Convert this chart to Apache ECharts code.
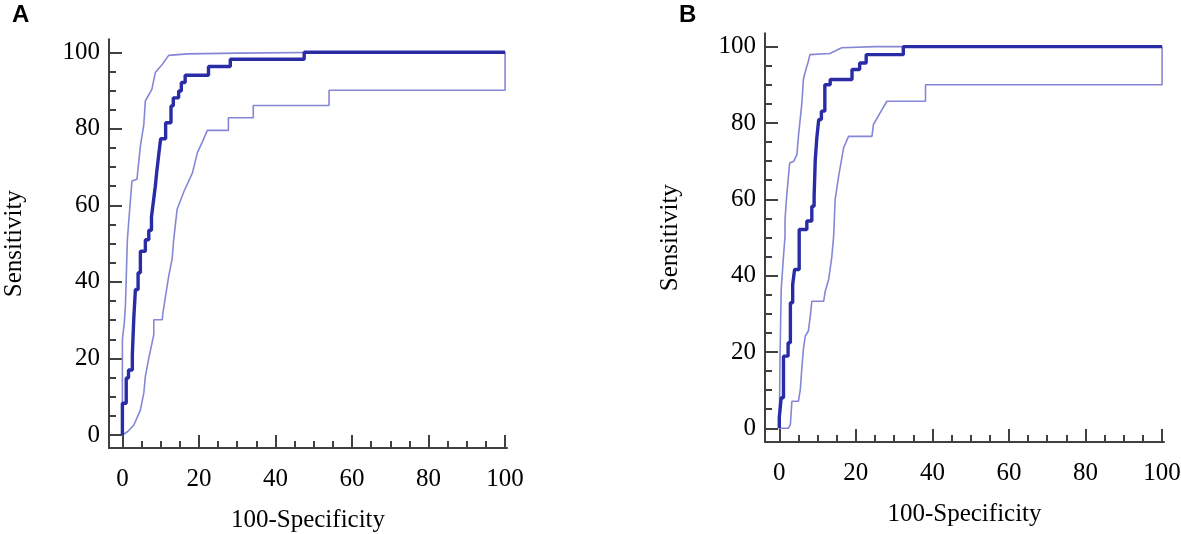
<!DOCTYPE html>
<html>
<head>
<meta charset="utf-8">
<script src="https://cdn.jsdelivr.net/npm/echarts@6/dist/echarts.min.js"></script>
<style>
    html, body { margin: 0; padding: 0; background: #fff; }
    #chart { width: 1181px; height: 534px; }
</style>
</head>
<body>
<div id="chart"></div>
<script>
// tick values (axes are stretched a little past 0 and 100, so ticks are given explicitly)
var majorTicks = [0, 20, 40, 60, 80, 100];
var minorTicks = [5, 10, 15, 25, 30, 35, 45, 50, 55, 65, 70, 75, 85, 90, 95];

// panel A: ROC curve, [100-Specificity, Sensitivity] at each step
var rocA = [[0, 0], [0, 8.3], [1.0, 14.9], [1.6, 17], [2.6, 21], [3.0, 31], [3.4, 38], [4.1, 42.4],
    [4.7, 48], [6.0, 51], [6.9, 53.5], [7.6, 57], [8.1, 61], [8.6, 65], [9.0, 69], [9.5, 73.3],
    [10.0, 77.4], [11.3, 81.6], [12.7, 86], [13.3, 88.1], [14.7, 89.9], [15.4, 92.1], [16.4, 94],
    [22.5, 96.3], [28.2, 98.2], [47.5, 100], [100, 100]];
var upperA = [[0, 0], [0, 25], [0.5, 29.3], [0.8, 34], [1.3, 51], [1.7, 56.3], [2.5, 66.4], [3.8, 66.8],
    [4.7, 75.5], [5.6, 81.2], [6.0, 87.3], [6.4, 88], [7.7, 90.3], [8.6, 94.7], [10.4, 96.8], [12.1, 99.2],
    [17, 99.6], [30, 99.8], [55, 100], [100, 100]];
var lowerA = [[0, 0], [1.4, 0.9], [3.0, 2.6], [4.7, 6.5], [5.6, 11], [6.0, 15.3], [6.9, 20.1], [8.2, 26.2],
    [8.2, 30.1], [10.4, 30.1], [10.6, 32], [11.2, 35.8], [12.1, 41.5], [13.0, 46], [13.4, 51], [14.3, 59],
    [16.1, 63.7], [18.3, 68.5], [19.6, 73.8], [20.9, 76.6], [22.2, 79.6], [27.7, 79.6], [27.7, 82.9],
    [34.2, 82.9], [34.2, 86.1], [54, 86.1], [54, 90.1], [100, 90.1], [100, 100]];

// panel B
var rocB = [[0, 0], [0, 2.8], [0.5, 8], [1.1, 18.9], [2.3, 22.4], [2.9, 32.9], [3.5, 37.7], [4.0, 41.6],
    [5.2, 52.1], [7.2, 54.3], [8.5, 58.2], [9.1, 60.8], [9.4, 70.4], [9.8, 76], [10.3, 80.9], [11.0, 83.1],
    [11.9, 90], [13.3, 91.4], [19.0, 94], [21.0, 95.7], [22.7, 97.9], [32.4, 100], [100, 100]];
var upperB = [[0, 0], [0.2, 18.9], [0.5, 36.4], [1.1, 45.1], [1.5, 50.3], [1.5, 54.7], [1.9, 60.4],
    [2.7, 69.5], [3.8, 70], [4.6, 71.7], [5.0, 76.5], [5.9, 85.2], [6.3, 91.4], [6.7, 93.1], [7.6, 96.2],
    [8.0, 97.9], [13.2, 98.2], [16.3, 99.7], [25, 100], [100, 100]];
var lowerB = [[0, 0], [2.4, 0], [2.9, 1.0], [3.3, 7.1], [5.0, 7.1], [5.5, 10.2], [5.9, 15.9], [6.3, 20.7],
    [6.8, 24.2], [7.6, 25.5], [8.1, 29.4], [8.5, 33.3], [11.6, 33.3], [12.0, 35.9], [12.9, 39.0],
    [13.7, 44.7], [14.2, 50.3], [14.6, 60], [15.5, 66], [16.8, 73.5], [18.1, 76.5], [24.2, 76.5],
    [24.6, 79.6], [26.3, 82.6], [28.1, 85.7], [38.2, 85.7], [38.2, 90], [100, 90], [100, 100]];

var panelNames = ['A', 'B'];
var xName = '100-Specificity';
var yName = 'Sensitivity';

var serif = "Liberation Serif",
    axisColor = '#404040',
    rocColor = '#2a2ca6',
    ciColor = '#8587d6';

var chart = echarts.init(document.getElementById('chart'));

var panels = [
    {grid: {left: 109, top: 39.3, width: 398, height: 408.7}, xRange: [-3.5, 100.5], yRange: [-3.4, 103.4],
        roc: rocA, upper: upperA, lower: lowerA, title: {left: 12, top: 3}},
    {grid: {left: 765, top: 33.3, width: 399, height: 408.7}, xRange: [-3.73, 100.5], yRange: [-3.59, 103.5],
        roc: rocB, upper: upperB, lower: lowerB, title: {left: 679, top: 3}}
];

var grids = [], xAxes = [], yAxes = [], series = [], titles = [];

function axisFor(type, p, gi, isMajor){
    var range = type === 'x' ? p.xRange : p.yRange;
    var ax = {
        type: 'value',
        gridIndex: gi,
        min: range[0],
        max: range[1],
        position: type === 'x' ? 'bottom' : 'left',
        splitLine: {show: false},
        axisLine: {show: isMajor, onZero: false, lineStyle: {color: axisColor, width: 2}},
        axisTick: {
            show: true,
            inside: true,
            length: isMajor ? 13 : 7,
            customValues: isMajor ? majorTicks : minorTicks,
            lineStyle: {color: axisColor, width: 2}
        },
        axisLabel: {
            show: isMajor,
            customValues: majorTicks,
            margin: type === 'x' ? 19 : 9,
            color: '#000',
            fontFamily: serif,
            fontSize: 25
        }
    };
    if(isMajor){
        ax.name = type === 'x' ? xName : yName;
        ax.nameLocation = 'middle';
        ax.nameGap = type === 'x' ? 60 : 82;
        ax.nameTextStyle = {color: '#000', fontFamily: serif, fontSize: 25};
    }
    return ax;
}

panels.forEach(function(p, gi){
    // keep the plot area where it is, even if the names run to the edge
    p.grid.outerBoundsMode = 'none';
    p.grid.containLabel = false;
    grids.push(p.grid);
    xAxes.push(axisFor('x', p, gi, true));
    yAxes.push(axisFor('y', p, gi, true));
    xAxes.push(axisFor('x', p, gi, false));
    yAxes.push(axisFor('y', p, gi, false));

    var idx = gi * 2;
    series.push({
        type: 'line', xAxisIndex: idx, yAxisIndex: idx, data: p.upper, symbol: 'none',
        lineStyle: {color: ciColor, width: 1.6}, z: 2, silent: true
    });
    series.push({
        type: 'line', xAxisIndex: idx, yAxisIndex: idx, data: p.lower, symbol: 'none',
        lineStyle: {color: ciColor, width: 1.6}, z: 2, silent: true
    });
    series.push({
        type: 'line', xAxisIndex: idx, yAxisIndex: idx, data: p.roc, symbol: 'none', step: 'end',
        lineStyle: {color: rocColor, width: 3.4}, z: 3, silent: true
    });
    titles.push({
        text: panelNames[gi],
        left: p.title.left,
        top: p.title.top,
        padding: 0,
        textStyle: {fontFamily: 'Liberation Sans', fontWeight: 'bold', fontSize: 24, color: '#000'}
    });
});

chart.setOption({
    animation: false,
    backgroundColor: '#fff',
    title: titles,
    grid: grids,
    xAxis: xAxes,
    yAxis: yAxes,
    series: series
});
</script>
</body>
</html>
